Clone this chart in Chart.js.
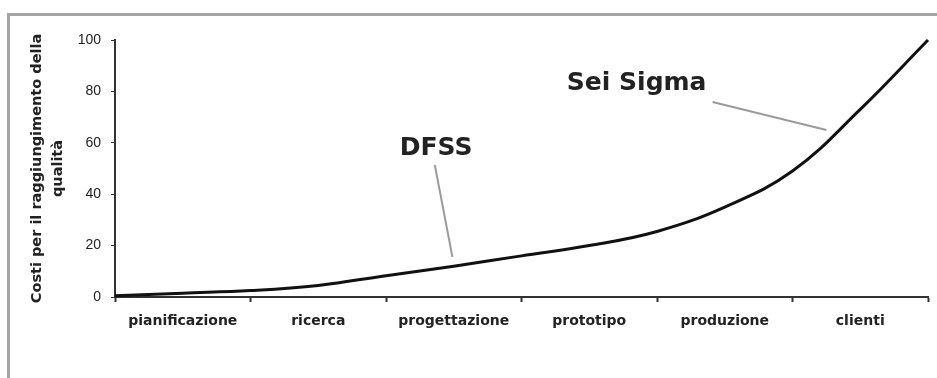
<!DOCTYPE html>
<html>
<head>
<meta charset="utf-8">
<script src="https://cdn.jsdelivr.net/npm/chart.js@4"></script>
<style>
  html, body { margin: 0; padding: 0; background: #fff; }
</style>
</head>
<body>
<canvas id="chartcosti" width="937" height="378"></canvas>
<script>
// fasi del progetto (etichette asse x)
const fasi = ['pianificazione', 'ricerca', 'progettazione', 'prototipo', 'produzione', 'clienti'];
// posizione lungo l'asse (in unita di fase) e costo
const posizioni = [0, 0.5, 1, 1.5, 2, 2.5, 3, 3.5, 4, 4.5, 5, 5.5, 6];
const costi = [0.5, 1.5, 2.5, 4.5, 8.3, 12, 16, 20, 25.5, 35, 49, 73, 100];
const yTicks = [0, 20, 40, 60, 80, 100];

// annotazioni (in coordinate dati)
const note = ['DFSS', 'Sei Sigma'];
const noteX = [2.37, 3.85];
const noteY = [57.6, 82.9];
const frecciaDa = [[2.36, 51.4], [4.41, 75.9]];
const frecciaA = [[2.49, 15.6], [5.25, 65]];

const cornice = {
    id: 'cornice',
    afterDraw(chart) {
        const ctx = chart.ctx;
        const xs = chart.scales.xv;
        const ys = chart.scales.y;
        ctx.save();
        // bordo grigio della figura
        ctx.strokeStyle = '#a4a4a4';
        ctx.lineWidth = 3;
        ctx.beginPath();
        ctx.moveTo(8.5, 378);
        ctx.lineTo(8.5, 14.5);
        ctx.lineTo(937, 14.5);
        ctx.stroke();
        // frecce
        ctx.strokeStyle = '#9a9a9a';
        ctx.lineWidth = 2;
        for (let i = 0; i < note.length; i++) {
            ctx.beginPath();
            ctx.moveTo(xs.getPixelForValue(frecciaDa[i][0]), ys.getPixelForValue(frecciaDa[i][1]));
            ctx.lineTo(xs.getPixelForValue(frecciaA[i][0]), ys.getPixelForValue(frecciaA[i][1]));
            ctx.stroke();
        }
        // testi
        ctx.fillStyle = '#222';
        ctx.font = 'bold 25px "DejaVu Sans"';
        ctx.textAlign = 'center';
        ctx.textBaseline = 'middle';
        for (let i = 0; i < note.length; i++) {
            ctx.fillText(note[i], xs.getPixelForValue(noteX[i]), ys.getPixelForValue(noteY[i]));
        }
        ctx.restore();
    }
};

const data = {
    labels: fasi,
    datasets: [{
        label: 'Costi',
        data: posizioni.map((x, i) => ({ x: x, y: costi[i] })),
        xAxisID: 'xv',
        yAxisID: 'y',
        borderColor: '#111',
        borderWidth: 3,
        pointRadius: 0,
        tension: 0.4,
        clip: 6,
    }]
};

const config = {
    type: 'line',
    data: data,
    options: {
        responsive: false,
        devicePixelRatio: 1,
        animation: false,
        layout: {
            padding: { top: 40, right: 9, bottom: 0, left: 0 },
        },
        plugins: {
            legend: { display: false },
            tooltip: { enabled: false },
        },
        scales: {
            x: {
                type: 'category',
                position: 'bottom',
                offset: true,
                afterFit: (s) => { s.height = 81; },
                grid: {
                    offset: true,
                    drawOnChartArea: false,
                    tickLength: 5,
                    tickWidth: 2,
                    tickColor: '#333',
                },
                border: { color: '#333', width: 2 },
                ticks: {
                    color: '#222',
                    padding: 11,
                    maxRotation: 0,
                    font: { family: 'DejaVu Sans', weight: 'bold', size: 14 },
                },
            },
            xv: {
                type: 'linear',
                min: 0,
                max: 6,
                display: false,
            },
            y: {
                type: 'linear',
                min: 0,
                max: 100,
                afterFit: (s) => { s.width = 115; },
                afterBuildTicks: (s) => { s.ticks = yTicks.map(v => ({ value: v })); },
                grid: {
                    drawOnChartArea: false,
                    tickLength: 4,
                    tickColor: '#333',
                },
                border: { color: '#333', width: 2 },
                ticks: {
                    color: '#222',
                    padding: 10,
                    font: { family: 'Liberation Sans', size: 14 },
                },
                title: {
                    display: true,
                    text: ['Costi per il raggiungimento della', 'qualità'],
                    color: '#222',
                    padding: { top: 27, bottom: 0 },
                    font: { family: 'DejaVu Sans', weight: 'bold', size: 14.5, lineHeight: 1.45 },
                },
            },
        },
    },
    plugins: [cornice],
};

const chartcosti = new Chart(
    document.getElementById('chartcosti'),
    config
);
</script>
</body>
</html>
